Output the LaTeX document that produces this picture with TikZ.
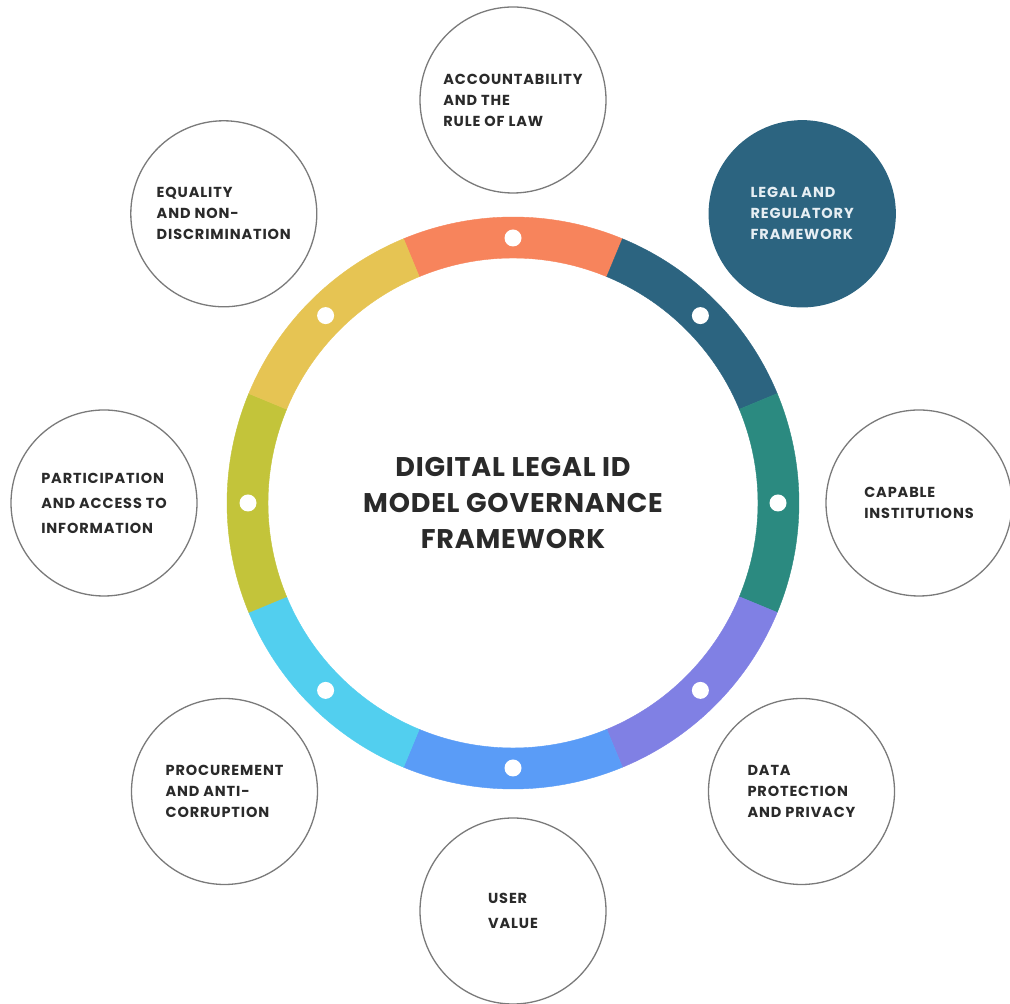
\documentclass[tikz,border=0pt]{standalone}
\usepackage{fontspec}
\setmainfont{Poppins}
\newfontfamily\satfont[LetterSpace=6]{Poppins}
\newfontfamily\titlefont[LetterSpace=3]{Poppins}
\definecolor{segA}{HTML}{F7845C}
\definecolor{segB}{HTML}{2C6480}
\definecolor{segC}{HTML}{2B8A80}
\definecolor{segD}{HTML}{8080E4}
\definecolor{segE}{HTML}{5A9CF7}
\definecolor{segF}{HTML}{52CFEF}
\definecolor{segG}{HTML}{C3C43A}
\definecolor{segH}{HTML}{E6C453}
\definecolor{satgray}{HTML}{7A7A7A}
\definecolor{linkgray}{HTML}{6E6E6E}
\definecolor{txtdark}{HTML}{2A2A2A}
\definecolor{legaltxt}{HTML}{E6EEF3}
\pgfdeclarelayer{bg}
\pgfsetlayers{bg,main}
\begin{document}
\begin{tikzpicture}[x=1pt,y=1pt,
  sat/.style={circle, draw=satgray, line width=1.3pt, minimum size=186pt, inner sep=0pt,
    fill=white, align=left, text=txtdark, font=\satfont\bfseries\fontsize{14.5}{21}\selectfont},
  satwide/.style={sat, font=\satfont\bfseries\fontsize{14.5}{25}\selectfont},
  satfill/.style={sat, fill=segB, draw=segB, text=legaltxt},
  ringdot/.style={circle, fill=white, minimum size=17pt, inner sep=0pt},
  link/.style={draw=linkgray, line width=1.3pt},
  titletext/.style={align=center, text=txtdark, font=\titlefont\bfseries\fontsize{27}{36}\selectfont}]
\fill[white] (0,0) rectangle (1010,1004);
\useasboundingbox (0,0) rectangle (1010,1004);
\coordinate (C) at (513,501);

% ring segments
\foreach \a/\c in {90/segA,45/segB,0/segC,-45/segD,-90/segE,-135/segF,180/segG,135/segH}{
  \fill[\c, draw=\c, line width=0.4pt, shift={(C)}]
    (\a-22.5:245) arc[start angle=\a-22.5, end angle=\a+22.5, radius=245]
    -- (\a+22.5:286) arc[start angle=\a+22.5, end angle=\a-22.5, radius=286] -- cycle;
}

% ring dots
\foreach \a/\n in {90/1,45/2,0/3,-45/4,-90/5,-135/6,180/7,135/8}{
  \node[ringdot] (d\n) at ([shift={(\a:265)}]C) {};
}

% satellites
\node[sat] (s1) at ([shift={(90:403)}]C) {ACCOUNTABILITY\\AND THE\\RULE OF LAW};
\node[satfill] (s2) at ([shift={(45:409)}]C) {LEGAL AND\\REGULATORY\\FRAMEWORK};
\node[sat] (s3) at ([shift={(0:406)}]C) {CAPABLE\\INSTITUTIONS};
\node[sat] (s4) at ([shift={(-45:408)}]C) {DATA\\PROTECTION\\AND PRIVACY};
\node[satwide] (s5) at ([shift={(-90:408)}]C) {USER\\VALUE};
\node[sat] (s6) at ([shift={(-135:408)}]C) {PROCUREMENT\\AND ANTI-\\CORRUPTION};
\node[satwide] (s7) at ([shift={(180:409)}]C) {PARTICIPATION\\AND ACCESS TO\\INFORMATION};
\node[sat] (s8) at ([shift={(135:409)}]C) {EQUALITY\\AND NON-\\DISCRIMINATION};

% connectors (below the ring)
\begin{pgfonlayer}{bg}
\foreach \n in {1,...,8}{
  \draw[link] (d\n) -- (s\n);
}
\end{pgfonlayer}

% title
\node[titletext] (title) at (C) {DIGITAL LEGAL ID\\MODEL GOVERNANCE\\FRAMEWORK};
\end{tikzpicture}
\end{document}
